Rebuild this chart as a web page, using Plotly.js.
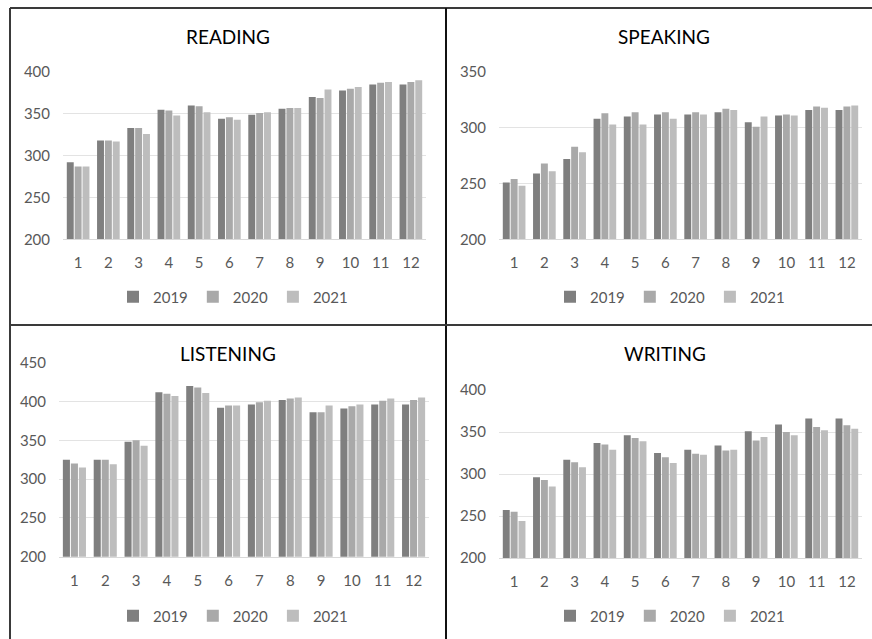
<!DOCTYPE html>
<html>
<head>
<meta charset="utf-8">
<script src="https://cdn.plot.ly/plotly-3.0.1.min.js"></script>
<style>html,body{margin:0;padding:0;background:#fff;}#chart{width:872px;height:639px;}</style>
</head>
<body>
<div id="chart"></div>
<script>
const categories = ['1','2','3','4','5','6','7','8','9','10','11','12'];
const years = ['2019','2020','2021'];
const panelTitles = ['READING','SPEAKING','LISTENING','WRITING'];

const reading2019 = [292,318,333,355,360,344,349,356,370,378,385,385];
const reading2020 = [287,318,333,354,359,346,351,357,369,380,387,388];
const reading2021 = [287,317,326,348,352,343,352,357,379,382,388,390];

const speaking2019 = [251,259,272,308,310,312,312,314,305,311,316,316];
const speaking2020 = [254,268,283,313,314,314,314,317,301,312,319,319];
const speaking2021 = [248,261,278,303,303,308,312,316,310,311,318,320];

const listening2019 = [325,325,348,412,420,392,396,402,386,391,396,396];
const listening2020 = [320,325,350,410,418,395,399,404,386,394,401,402];
const listening2021 = [315,319,343,407,411,395,401,405,395,396,404,405];

const writing2019 = [257,296,317,337,346,325,329,334,351,359,366,366];
const writing2020 = [255,293,314,335,343,320,324,328,340,350,356,358];
const writing2021 = [244,285,308,329,339,313,323,329,344,346,352,354];

const readingRange = [200,400];
const speakingRange = [200,350];
const listeningRange = [200,450];
const writingRange = [200,400];

const yearColors = ['#7f7f7f','#a9a9a9','#bdbdbd'];
const W = 872, H = 639;
const px = v => v / W;
const py = v => 1 - v / H;

const panels = [
  {series:[reading2019,reading2020,reading2021], range:readingRange, xa:'x', ya:'y', leg:'legend',
   xd:[px(63),px(426)], yd:[py(239.3),py(72)], title:[228,36], legPos:[233,297]},
  {series:[speaking2019,speaking2020,speaking2021], range:speakingRange, xa:'x2', ya:'y2', leg:'legend2',
   xd:[px(499),px(862)], yd:[py(239.3),py(72)], title:[664,36], legPos:[670,297]},
  {series:[listening2019,listening2020,listening2021], range:listeningRange, xa:'x3', ya:'y3', leg:'legend3',
   xd:[px(59),px(429)], yd:[py(556.7),py(362.7)], title:[228,353], legPos:[233,616]},
  {series:[writing2019,writing2020,writing2021], range:writingRange, xa:'x4', ya:'y4', leg:'legend4',
   xd:[px(499),px(862)], yd:[py(558),py(390)], title:[665,353], legPos:[670,616]}
];

const tickFont = {family:'Lato, "Open Sans", sans-serif', size:15, color:'#595959'};
const traces = [];
const layout = {
  width:W, height:H, margin:{l:0,r:0,t:0,b:0},
  paper_bgcolor:'#fff', plot_bgcolor:'#fff',
  barmode:'group', bargap:0.22, bargroupgap:0.12,
  font:{family:'Lato, "Open Sans", sans-serif', color:'#595959'},
  annotations:[], shapes:[]
};

panels.forEach((p, i) => {
  p.series.forEach((vals, k) => {
    traces.push({
      type:'bar', x:categories, y:vals, name:years[k],
      xaxis:p.xa, yaxis:p.ya, legend:p.leg,
      marker:{color:yearColors[k]}, hoverinfo:'x+y+name'
    });
  });
  const xKey = 'xaxis' + (i === 0 ? '' : i + 1);
  const yKey = 'yaxis' + (i === 0 ? '' : i + 1);
  layout[xKey] = {
    domain:p.xd, anchor:p.ya, type:'category', showgrid:false,
    showline:true, linecolor:'#d9d9d9', linewidth:1, ticks:'',
    tickfont:tickFont, ticklabelstandoff:10, zeroline:false, fixedrange:true
  };
  layout[yKey] = {
    domain:p.yd, anchor:p.xa, range:p.range, dtick:50, showgrid:true,
    gridcolor:'#e3e3e3', gridwidth:1, showline:false, ticks:'',
    tickfont:tickFont, ticklabelstandoff:12, zeroline:false, fixedrange:true
  };
  layout[p.leg] = {
    orientation:'h', x:px(p.legPos[0]), y:py(p.legPos[1]), xanchor:'center', yanchor:'middle',
    font:{family:'Lato, "Open Sans", sans-serif', size:15, color:'#595959'},
    bgcolor:'rgba(0,0,0,0)', itemwidth:30, traceorder:'normal', tracegroupgap:0
  };
  layout.annotations.push({
    text:panelTitles[i], xref:'paper', yref:'paper', x:px(p.title[0]), y:py(p.title[1]),
    xanchor:'center', yanchor:'middle', showarrow:false,
    font:{family:'Lato, "Open Sans", sans-serif', size:19, color:'#000'}
  });
});

const borderLine = {color:'#3a3a3a', width:2};
layout.shapes.push(
  {type:'line', xref:'paper', yref:'paper', x0:px(10), x1:1, y0:py(8), y1:py(8), line:borderLine},
  {type:'line', xref:'paper', yref:'paper', x0:px(10), x1:px(10), y0:py(8), y1:0, line:borderLine},
  {type:'line', xref:'paper', yref:'paper', x0:px(446), x1:px(446), y0:py(8), y1:0, line:{color:'#111', width:2}},
  {type:'line', xref:'paper', yref:'paper', x0:px(10), x1:1, y0:py(325), y1:py(325), line:borderLine}
);

Plotly.newPlot('chart', traces, layout, {displayModeBar:false, staticPlot:true});
</script>
</body>
</html>
